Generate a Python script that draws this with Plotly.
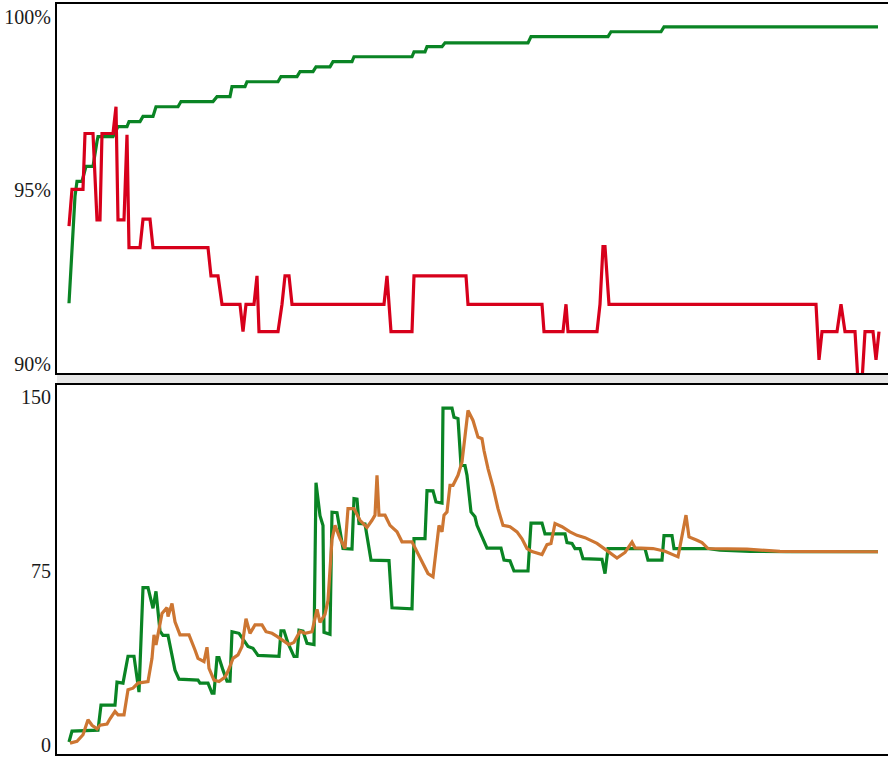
import plotly.graph_objects as go

# ---------------- data (x = sample position) ----------------
top_green_x = [0, 6, 8, 13, 17, 24, 28, 29, 44, 49, 58, 60, 71, 74, 84, 87, 109, 112, 144, 148, 161, 163, 176, 178,
               209, 212, 228, 231, 244, 247, 261, 264, 283, 285, 343, 345, 356, 358, 373, 376, 459, 462, 539, 542,
               592, 595, 809]
top_green_y = [91.75, 94.83, 95.26, 95.26, 95.69, 95.69, 96.41, 96.55, 96.55, 96.84, 96.84, 96.98, 96.98, 97.13,
               97.13, 97.41, 97.41, 97.56, 97.56, 97.70, 97.70, 97.99, 97.99, 98.13, 98.13, 98.28, 98.28, 98.42,
               98.42, 98.56, 98.56, 98.71, 98.71, 98.85, 98.85, 98.99, 98.99, 99.14, 99.14, 99.25, 99.25, 99.43,
               99.43, 99.57, 99.57, 99.71, 99.71]

top_red_x = [0, 3, 14, 16, 24, 28, 31, 33, 44, 47, 49, 55, 58, 60, 71, 74, 81, 84, 139, 142, 149, 153, 171, 174,
             177, 185, 188, 190, 209, 213, 216, 220, 223, 315, 318, 322, 343, 345, 397, 399, 473, 475, 494, 497,
             499, 528, 531, 534, 536, 540, 747, 750, 753, 768, 772, 776, 786, 789, 793, 796, 804, 807, 810]
top_red_y = [93.97, 95.03, 95.03, 96.64, 96.64, 94.15, 94.15, 96.64, 96.64, 97.41, 94.15, 94.15, 96.6, 93.35,
             93.35, 94.17, 94.17, 93.35, 93.35, 92.54, 92.54, 91.72, 91.72, 90.93, 91.72, 91.72, 92.54, 90.93,
             90.93, 91.72, 92.54, 92.54, 91.72, 91.72, 92.54, 90.93, 90.93, 92.54, 92.54, 91.72, 91.72, 90.93,
             90.93, 91.72, 90.93, 90.93, 91.72, 93.38, 93.38, 91.72, 91.72, 90.12, 90.93, 90.93, 91.72, 90.93,
             90.93, 89.5, 89.5, 90.93, 90.93, 90.12, 90.93]

bot_green_x = [0, 3, 29, 32, 46, 48, 54, 59, 65, 70, 74, 79, 84, 87, 91, 94, 99, 106, 110, 129, 131, 139, 143,
               145, 148, 150, 154, 158, 161, 163, 170, 179, 184, 189, 210, 212, 215, 219, 225, 228, 230, 234,
               238, 245, 247, 251, 254, 255, 261, 263, 268, 274, 283, 285, 288, 290, 296, 302, 320, 323, 343,
               345, 356, 358, 364, 367, 373, 374, 383, 385, 389, 392, 396, 398, 402, 406, 408, 413, 418, 432,
               435, 441, 445, 459, 462, 473, 476, 496, 498, 503, 506, 511, 514, 533, 536, 539, 576, 579, 593,
               595, 603, 605, 638, 651, 681, 718, 809]
bot_green_y = [1.2, 5.9, 6.3, 17.1, 17.1, 27.0, 26.6, 38.2, 38.2, 22.7, 67.8, 67.8, 58.9, 66.2, 49.0, 47.2, 47.2,
               32.2, 28.3, 27.9, 26.6, 26.6, 22.3, 22.3, 37.6, 37.6, 32.2, 27.4, 27.4, 48.8, 48.1, 42.4, 41.6,
               38.6, 38.2, 49.2, 49.2, 43.8, 38.1, 38.1, 49.4, 49.0, 43.8, 43.2, 113.1, 98.9, 94.6, 48.5, 47.7,
               100.4, 100.2, 84.7, 84.5, 106.2, 106.0, 95.5, 95.3, 79.7, 79.5, 59.1, 58.7, 89.0, 89.0, 109.7,
               109.6, 104.8, 104.3, 145.3, 145.3, 141.4, 140.8, 120.6, 120.5, 116.3, 100.5, 98.4, 94.7, 90.1,
               84.9, 84.9, 79.7, 79.4, 75.0, 75.0, 95.7, 95.7, 91.0, 91.0, 87.3, 86.9, 84.7, 84.7, 80.3, 80.0,
               73.9, 84.7, 84.7, 79.7, 79.7, 90.3, 90.3, 84.7, 84.7, 84.0, 83.5, 83.3, 83.3]

bot_orange_x = [1, 8, 14, 19, 23, 28, 31, 38, 41, 46, 49, 55, 59, 64, 69, 79, 83, 85, 87, 93, 98, 99, 103, 106,
                111, 120, 126, 129, 135, 138, 140, 145, 150, 156, 159, 164, 169, 173, 177, 181, 186, 193, 197,
                203, 208, 214, 220, 225, 231, 236, 243, 248, 251, 256, 259, 263, 266, 271, 276, 279, 285, 291,
                298, 303, 306, 308, 310, 316, 321, 328, 333, 343, 348, 354, 359, 364, 370, 373, 375, 378, 381,
                384, 389, 393, 396, 399, 404, 409, 413, 415, 419, 424, 429, 434, 441, 448, 453, 458, 463, 473,
                478, 482, 486, 493, 501, 508, 516, 528, 538, 548, 556, 563, 566, 584, 596, 609, 617, 620, 628,
                633, 639, 678, 711, 809]
bot_orange_y = [0.7, 1.5, 4.3, 10.8, 8.4, 6.9, 8.4, 8.9, 11.2, 14.4, 12.9, 12.9, 23.7, 24.4, 26.6, 27.3, 37.3,
                47.4, 43.1, 56.7, 59.2, 55.3, 61.0, 53.1, 47.4, 47.4, 40.9, 37.3, 35.9, 42.1, 33.0, 27.9, 27.3,
                29.2, 31.7, 37.3, 38.8, 42.4, 54.4, 48.1, 51.7, 51.7, 48.8, 48.1, 46.8, 44.9, 43.2, 44.2, 49.0,
                48.1, 48.8, 58.4, 52.8, 56.3, 62.3, 88.6, 94.7, 89.0, 84.7, 101.9, 101.9, 96.9, 93.8, 96.9, 99.1,
                116.3, 99.1, 99.1, 94.7, 91.9, 87.6, 87.6, 83.3, 77.5, 73.9, 72.5, 94.7, 91.9, 99.1, 100.5, 112.0,
                112.0, 116.3, 122.1, 133.5, 144.3, 140.0, 132.8, 132.1, 127.0, 119.2, 111.3, 101.9, 94.7, 94.1,
                91.9, 88.9, 84.7, 83.4, 82.1, 86.4, 86.9, 95.5, 94.1, 91.9, 90.4, 89.4, 86.9, 83.8, 80.6, 83.0,
                87.5, 85.0, 84.7, 83.5, 81.1, 99.1, 89.7, 88.3, 87.3, 84.7, 84.4, 83.5, 83.3]

top_tickvals = [90, 95, 100]
top_ticktext = ["90%", "95%", "100%"]
bot_tickvals = [0, 75, 150]
bot_ticktext = ["0", "75", "150"]

GREEN = "#0a8424"
RED = "#d7001b"
ORANGE = "#cd7632"
BAND = "#e6e6e6"

W, H = 888, 757
fig = go.Figure()
fig.add_trace(go.Scatter(x=top_green_x, y=top_green_y, mode="lines", line=dict(color=GREEN, width=3.2),
                         xaxis="x", yaxis="y"))
fig.add_trace(go.Scatter(x=top_red_x, y=top_red_y, mode="lines", line=dict(color=RED, width=3.2),
                         xaxis="x", yaxis="y"))
fig.add_trace(go.Scatter(x=bot_green_x, y=bot_green_y, mode="lines", line=dict(color=GREEN, width=3.2),
                         xaxis="x2", yaxis="y2"))
fig.add_trace(go.Scatter(x=bot_orange_x, y=bot_orange_y, mode="lines", line=dict(color=ORANGE, width=3.2),
                         xaxis="x2", yaxis="y2"))

xl = 57 / W
top_dom = [1 - 374 / H, 1 - 4 / H]
bot_dom = [1 - 756 / H, 1 - 386 / H]
font = dict(family="Liberation Serif, Times New Roman, serif", size=20, color="#1a1a1a")
xaxis_common = dict(showline=True, mirror=True, linecolor="black", linewidth=2, showgrid=False,
                    zeroline=False, ticks="", showticklabels=False)
yaxis_common = dict(showline=True, mirror=False, linecolor="black", linewidth=2, showgrid=False,
                    zeroline=False, ticks="", tickfont=font)
white = dict(fillcolor="white", line=dict(width=0), layer="below", type="rect", xref="paper", yref="paper")
fig.update_layout(
    width=W, height=H, margin=dict(l=0, r=0, t=0, b=0),
    paper_bgcolor=BAND, plot_bgcolor="white", showlegend=False,
    xaxis=dict(domain=[xl, 1], range=[-12, 819], anchor="y", **xaxis_common),
    yaxis=dict(domain=top_dom, range=[89.74, 100.37], tickvals=top_tickvals, ticktext=top_ticktext,
               anchor="x", **yaxis_common),
    xaxis2=dict(domain=[xl, 1], range=[-12, 819], anchor="y2", **xaxis_common),
    yaxis2=dict(domain=bot_dom, range=[-4.0, 155.3], tickvals=bot_tickvals, ticktext=bot_ticktext,
                anchor="x2", **yaxis_common),
    shapes=[
        dict(x0=-0.01, x1=xl, y0=-0.01, y1=1.01, **white),        # label column
        dict(x0=-0.01, x1=1.01, y0=top_dom[1], y1=1.01, **white),  # strip above top panel
        dict(x0=-0.01, x1=1.01, y0=-0.01, y1=bot_dom[0], **white), # strip below bottom panel
    ],
)
fig.write_html("out.html", config={"displayModeBar": False},
               post_script="document.body.style.margin='0';document.body.style.overflow='hidden';"
                           "document.body.style.background='white';")
